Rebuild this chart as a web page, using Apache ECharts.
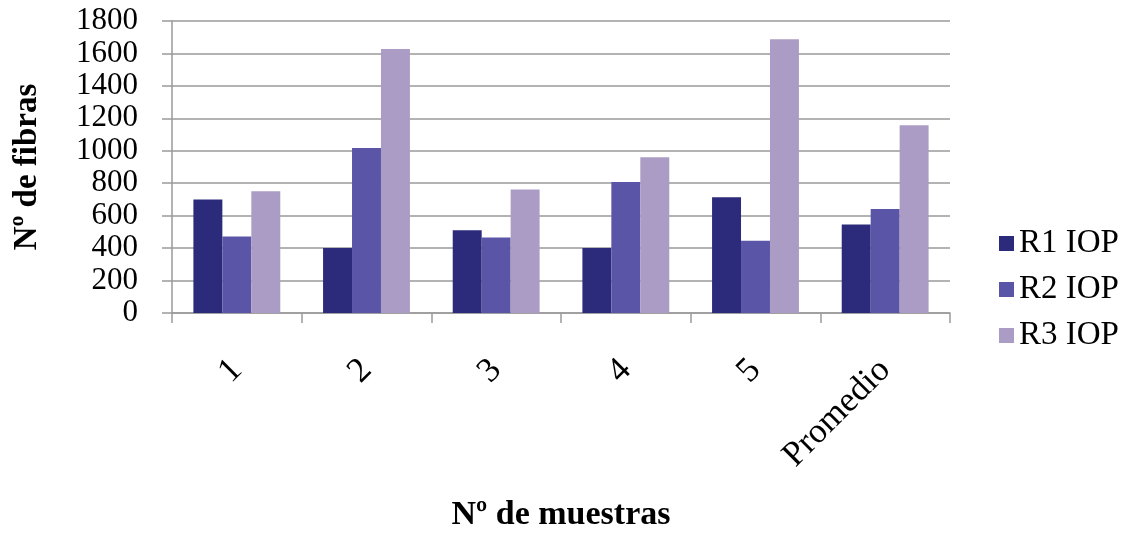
<!DOCTYPE html>
<html>
<head>
<meta charset="utf-8">
<script src="https://cdn.jsdelivr.net/npm/echarts@6/dist/echarts.min.js"></script>
<style>
  html, body { margin: 0; padding: 0; background: #fff; }
  #chart { width: 1122px; height: 534px; }
</style>
</head>
<body>
<div id="chart"></div>
<script>
// Fibre counts per sample and replicate
const categories = ['1', '2', '3', '4', '5', 'Promedio'];
const seriesNames = ['R1 IOP', 'R2 IOP', 'R3 IOP'];
const r1 = [700, 400, 510, 400, 713, 545];
const r2 = [471, 1017, 465, 808, 446, 641];
const r3 = [750, 1628, 761, 960, 1687, 1157];
const yTicks = [0, 200, 400, 600, 800, 1000, 1200, 1400, 1600, 1800];

const colors = ['#2b2a7b', '#5a55a6', '#ab9cc5'];
const serif = '"Liberation Serif", "Times New Roman", serif';
const gray = '#9a9a9a';

const chart = echarts.init(document.getElementById('chart'), null, { renderer: 'canvas' });

chart.setOption({
  animation: false,
  backgroundColor: '#fff',
  color: colors,
  grid: { left: 172, right: 172, top: 21, bottom: 221, containLabel: false, outerBoundsMode: 'none' },
  legend: {
    orient: 'vertical',
    left: 994,
    top: 222,
    itemWidth: 15,
    itemHeight: 15,
    itemGap: 13,
    icon: 'rect',
    textStyle: { fontFamily: serif, fontSize: 33, color: '#000', lineHeight: 33 },
    data: seriesNames
  },
  xAxis: {
    type: 'category',
    data: categories,
    boundaryGap: true,
    name: 'Nº de muestras',
    nameLocation: 'middle',
    nameGap: 185,
    nameTextStyle: { fontFamily: serif, fontSize: 34, fontWeight: 'bold', color: '#000' },
    axisLine: { show: true, lineStyle: { color: gray, width: 1.5 } },
    axisTick: { show: true, length: 10, alignWithLabel: false, lineStyle: { color: gray, width: 1.5 } },
    axisLabel: { rotate: 45, margin: 52, fontFamily: serif, fontSize: 35, color: '#000', interval: 0 }
  },
  yAxis: {
    type: 'value',
    min: yTicks[0],
    max: yTicks[yTicks.length - 1],
    interval: yTicks[1] - yTicks[0],
    name: 'Nº de fibras',
    nameLocation: 'middle',
    nameGap: 128,
    nameRotate: 90,
    nameTextStyle: { fontFamily: serif, fontSize: 33, fontWeight: 'bold', color: '#000' },
    axisLine: { show: true, lineStyle: { color: gray, width: 1.5 } },
    axisTick: { show: true, length: 10, lineStyle: { color: gray, width: 1.5 } },
    axisLabel: {
      margin: 34, fontFamily: serif, fontSize: 31, lineHeight: 31, color: '#000',
      showMinLabel: true, showMaxLabel: true, hideOverlap: false,
      formatter: v => String(v)
    },
    splitLine: { show: true, lineStyle: { color: gray, width: 1.5 } }
  },
  series: [r1, r2, r3].map((vals, i) => ({
    name: seriesNames[i],
    type: 'bar',
    data: vals,
    barGap: '0%',
    barCategoryGap: '33%',
    itemStyle: { color: colors[i] }
  }))
});
</script>
</body>
</html>
